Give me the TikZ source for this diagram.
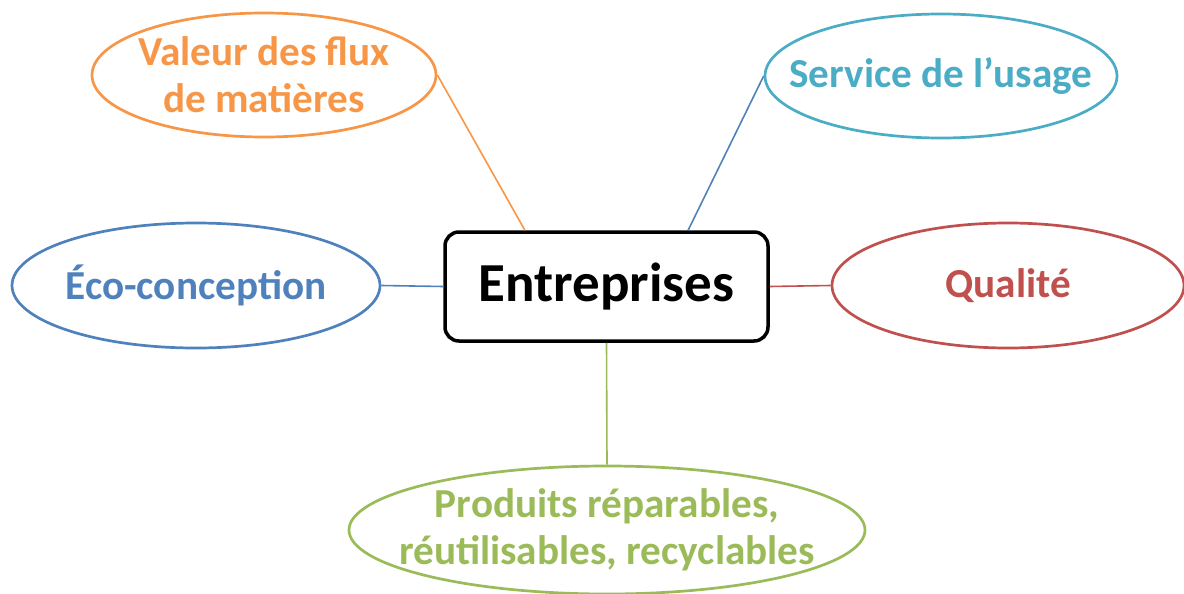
\documentclass[tikz,border=0pt]{standalone}
\usepackage{fontspec}
\setmainfont{Carlito}
\usetikzlibrary{shapes.geometric,calc}

\definecolor{cOrange}{HTML}{F79646}
\definecolor{cTeal}{HTML}{4BACC6}
\definecolor{cBlue}{HTML}{4F81BD}
\definecolor{cRed}{HTML}{C0504D}
\definecolor{cGreen}{HTML}{9BBB59}

\tikzset{
  bula/.style={ellipse, draw=#1, text=#1, line width=1.35pt,
    inner sep=-100pt, align=center,
    font=\bfseries\fontsize{20.6}{23.5}\selectfont},
  centru/.style={draw=black, rounded corners=7pt, line width=1.75pt,
    minimum width=161.5pt, minimum height=54.5pt, inner sep=0pt,
    font=\bfseries\fontsize{27.5}{30}\selectfont},
  legatura/.style={draw=#1, line width=0.8pt},
}

\begin{document}
\begin{tikzpicture}[x=0.5pt, y=-0.5pt]
    \useasboundingbox (0,0) rectangle (1184,594);
    % Nod central
    \node[centru] (entr) at (606.5,286.5) {Entreprises};
    % Elipse in jurul nodului central
    \node[bula=cOrange, minimum width=172pt, minimum height=62pt]
      (valeur) at (264,75) {Valeur des flux\\de matières};
    \node[bula=cTeal, minimum width=176pt, minimum height=62pt]
      (service) at (941,76) {Service de l’usage};
    \node[bula=cBlue, minimum width=184pt, minimum height=62.5pt]
      (eco) at (196,285.5) {Éco-conception};
    \node[bula=cRed, minimum width=176pt, minimum height=62.5pt]
      (qual) at (1008,285.5) {Qualité};
    \node[bula=cGreen, minimum width=258pt, minimum height=64pt]
      (produits) at (607,530) {Produits réparables,\\réutilisables, recyclables};
    % Legaturi catre nodul central
    \draw[legatura=cOrange] (valeur.east)
      -- ($(entr.north west)!0.25!(entr.north east)$);
    \draw[legatura=cBlue] (service.west)
      -- ($(entr.north west)!0.75!(entr.north east)$);
    \draw[legatura=cBlue] (eco.east) -- (entr.west);
    \draw[legatura=cRed] (entr.east) -- (qual.west);
    \draw[legatura=cGreen] (entr.south) -- (produits.north);
\end{tikzpicture}
\end{document}
